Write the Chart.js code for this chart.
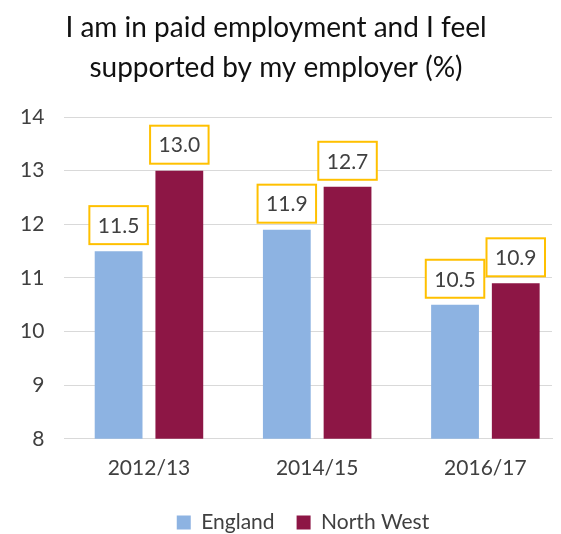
<!DOCTYPE html>
<html>
<head>
<meta charset="utf-8">
<script src="https://cdn.jsdelivr.net/npm/chart.js@4"></script>
<style>
  html, body { margin: 0; padding: 0; background: #fff; }
  #wrap { width: 561px; height: 534px; }
</style>
</head>
<body>
<div id="wrap"><canvas id="chart"></canvas></div>
<script>
const titleLines = ['I am in paid employment and I feel', 'supported by my employer (%)'];
const categories = ['2012/13', '2014/15', '2016/17'];
const englandValues = [11.5, 11.9, 10.5];
const northWestValues = [13.0, 12.7, 10.9];
const yTicks = [8, 9, 10, 11, 12, 13, 14];

const FONT = 'Lato, "Open Sans", sans-serif';

// boxed value labels above each bar
const valueBoxes = {
    id: 'valueBoxes',
    afterDatasetsDraw(chart) {
        const ctx = chart.ctx;
        ctx.save();
        ctx.font = '21px ' + FONT;
        ctx.textAlign = 'center';
        ctx.textBaseline = 'middle';
        chart.data.datasets.forEach((ds, i) => {
            chart.getDatasetMeta(i).data.forEach((bar, j) => {
                const txt = ds.data[j].y.toFixed(1);
                const w = ctx.measureText(txt).width + 17;
                const h = 38;
                const bottom = bar.y - 7;
                ctx.fillStyle = '#fff';
                ctx.fillRect(bar.x - w / 2, bottom - h, w, h);
                ctx.strokeStyle = '#FFC000';
                ctx.lineWidth = 2;
                ctx.strokeRect(bar.x - w / 2, bottom - h, w, h);
                ctx.fillStyle = '#404040';
                ctx.fillText(txt, bar.x, bottom - h / 2 + 1);
            });
        });
        ctx.restore();
    }
};

// nudge legend to the right like the original
const legendShift = {
    id: 'legendShift',
    afterLayout(chart) {
        chart.legend.left += 27;
        chart.legend.right += 27;
    }
};

new Chart(document.getElementById('chart'), {
    type: 'bar',
    data: {
        datasets: [
            {
                label: 'England',
                data: englandValues.map((v, i) => ({ x: i, y: v })),
                backgroundColor: '#8DB3E2'
            },
            {
                label: 'North West',
                data: northWestValues.map((v, i) => ({ x: i, y: v })),
                backgroundColor: '#8D1645'
            }
        ]
    },
    options: {
        responsive: true,
        maintainAspectRatio: false,
        animation: false,
        categoryPercentage: 0.722,
        barPercentage: 0.787,
        layout: { padding: { left: 0, right: 9, top: 0, bottom: -9 } },
        plugins: {
            title: {
                display: true,
                text: titleLines,
                color: '#111',
                font: { family: FONT, size: 28, weight: 'normal', lineHeight: 1.43 },
                padding: { top: 8, bottom: 29 }
            },
            legend: {
                position: 'bottom',
                labels: {
                    boxWidth: 14,
                    boxHeight: 14,
                    padding: 22,
                    color: '#404040',
                    font: { family: FONT, size: 21 }
                }
            },
            tooltip: { enabled: false }
        },
        scales: {
            x: {
                type: 'linear',
                offset: false,
                min: -0.503,
                max: 2.396,
                grid: { display: false },
                border: { display: true, color: '#D9D9D9' },
                ticks: {
                    stepSize: 1,
                    includeBounds: false,
                    padding: 9,
                    color: '#404040',
                    font: { family: FONT, size: 21 },
                    callback: v => Number.isInteger(v) ? categories[v] : ''
                }
            },
            y: {
                min: yTicks[0],
                max: yTicks[yTicks.length - 1],
                afterBuildTicks: axis => { axis.ticks = yTicks.map(v => ({ value: v })); },
                grid: { color: '#D9D9D9', drawTicks: false },
                border: { display: false },
                ticks: {
                    padding: 20,
                    color: '#404040',
                    font: { family: FONT, size: 21 }
                }
            }
        }
    },
    plugins: [valueBoxes, legendShift]
});
</script>
</body>
</html>
